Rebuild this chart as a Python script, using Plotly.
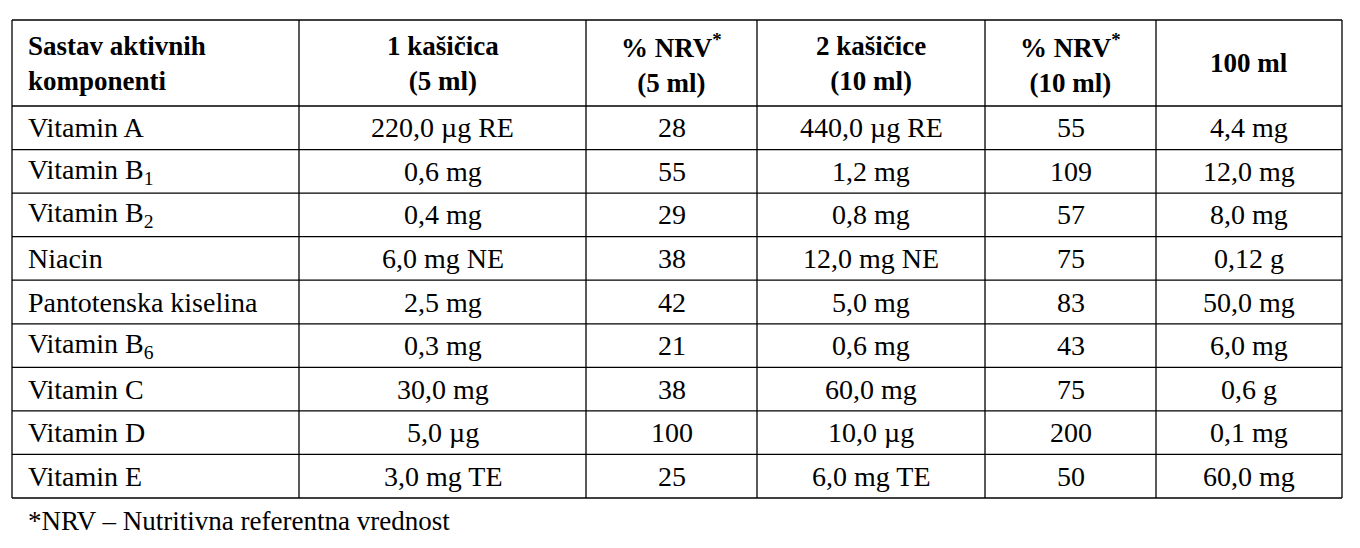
import plotly.graph_objects as go

headers = ["Sastav aktivnih<br>komponenti", "1 kašičica<br>(5 ml)", "% NRV<sup>*</sup><br>(5 ml)",
           "2 kašičice<br>(10 ml)", "% NRV<sup>*</sup><br>(10 ml)", "100 ml"]
components = ["Vitamin A", "Vitamin B<sub>1</sub>", "Vitamin B<sub>2</sub>", "Niacin",
              "Pantotenska kiselina", "Vitamin B<sub>6</sub>", "Vitamin C", "Vitamin D", "Vitamin E"]
dose5 = ["220,0 µg RE", "0,6 mg", "0,4 mg", "6,0 mg NE", "2,5 mg", "0,3 mg", "30,0 mg", "5,0 µg", "3,0 mg TE"]
nrv5 = ["28", "55", "29", "38", "42", "21", "38", "100", "25"]
dose10 = ["440,0 µg RE", "1,2 mg", "0,8 mg", "12,0 mg NE", "5,0 mg", "0,6 mg", "60,0 mg", "10,0 µg", "6,0 mg TE"]
nrv10 = ["55", "109", "57", "75", "83", "43", "75", "200", "50"]
per100 = ["4,4 mg", "12,0 mg", "8,0 mg", "0,12 g", "50,0 mg", "6,0 mg", "0,6 g", "0,1 mg", "60,0 mg"]
footnote = "*NRV – Nutritivna referentna vrednost"

cols = [components, dose5, nrv5, dose10, nrv10, per100]
off = 8  # page body margin compensation
xb = [v - off for v in [12, 299, 586, 757, 985, 1156, 1342]]
top, head_bot, bot = 20 - off, 106 - off, 498 - off
n = len(components)
rh = (bot - head_bot) / n
yb = [top, head_bot] + [head_bot + rh * (i + 1) for i in range(n)]

FONT = "Liberation Serif"
fig = go.Figure()
shapes = []
for x in xb:
    shapes.append(dict(type="line", x0=x, x1=x, y0=top, y1=bot, line=dict(color="black", width=1.3)))
for y in yb:
    shapes.append(dict(type="line", x0=xb[0], x1=xb[-1], y0=y, y1=y, line=dict(color="black", width=1.3)))

ann = []
for j, h in enumerate(headers):
    left = j == 0
    ann.append(dict(x=xb[j] + 14 if left else (xb[j] + xb[j + 1]) / 2, y=(top + head_bot) / 2,
                    text="<b>" + h + "</b>", showarrow=False, xanchor="left" if left else "center",
                    yanchor="middle", align="left" if left else "center",
                    font=dict(family=FONT, size=27, color="black")))
for j, col in enumerate(cols):
    left = j == 0
    for i, v in enumerate(col):
        ann.append(dict(x=xb[j] + 14 if left else (xb[j] + xb[j + 1]) / 2, y=(yb[i + 1] + yb[i + 2]) / 2,
                        text=v, showarrow=False, xanchor="left" if left else "center", yanchor="middle",
                        font=dict(family=FONT, size=28, color="black")))
ann.append(dict(x=26 - off, y=521 - off, text=footnote, showarrow=False, xanchor="left", yanchor="middle",
                font=dict(family=FONT, size=27, color="black")))

fig.update_layout(width=1360, height=548, margin=dict(l=0, r=0, t=0, b=0),
                  plot_bgcolor="white", paper_bgcolor="white", shapes=shapes, annotations=ann,
                  xaxis=dict(range=[0, 1360], visible=False, fixedrange=True),
                  yaxis=dict(range=[548, 0], visible=False, fixedrange=True), showlegend=False)
fig.write_html("out.html")
